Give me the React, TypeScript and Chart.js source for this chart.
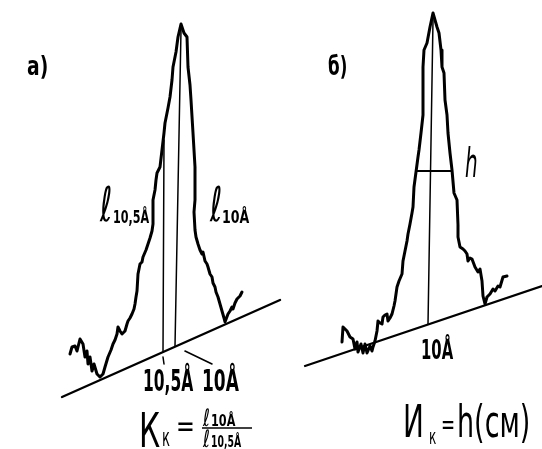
import React, { useEffect, useRef } from "react";
import { Chart, registerables } from "chart.js";

Chart.register(...registerables);

type P = [number, number];

// Panel а) — diffraction trace (x, intensity in drawing units)
const LEFT_TRACE: P[] = [
  [70, 354], [72, 347], [75, 346], [77, 351], [80, 339], [83, 344], [85, 357], [87, 351],
  [88, 364], [90, 357], [92, 371], [94, 364], [97, 374], [100, 377], [103, 374],
  [105, 367], [108, 357], [111, 350], [113, 344], [115, 340], [117, 334], [118, 327], [120, 331],
  [122, 334], [125, 331], [127, 324], [128, 321], [130, 318], [132, 314], [134, 309], [135, 304],
  [136, 297], [137, 291], [138, 274], [140, 264], [142, 262], [143, 257], [146, 250], [148, 244],
  [150, 238], [152, 231], [153, 224], [153, 200], [155, 190], [156, 180], [157, 173], [160, 167],
  [162, 150], [164, 133], [165, 123], [168, 108], [170, 97], [172, 80], [173, 67], [176, 52],
  [178, 37], [181, 24], [184, 33], [187, 37], [188, 67], [190, 85], [191, 100], [193, 133],
  [195, 167], [195, 200], [194, 212], [195, 230], [196, 237], [198, 244], [200, 250], [202, 254],
  [203, 252], [205, 261], [207, 264], [208, 267], [210, 274], [212, 277], [213, 283], [215, 287],
  [216, 292], [218, 297], [220, 304], [222, 311], [224, 318], [225, 322], [228, 314], [230, 311],
  [232, 307], [233, 309], [235, 303], [237, 299], [240, 296], [242, 292],
];
const LEFT_BASE: P[] = [[62, 397], [280, 300]];
const LEFT_PEAK_105: P[] = [[164, 140], [163, 352]];
const LEFT_PEAK_10: P[] = [[181, 30], [175, 346]];
const LEFT_TICK: P[] = [[163, 357], [164, 364]];
const LEFT_LEADER: P[] = [[185, 351], [212, 364]];

// Panel б) — diffraction trace
const RIGHT_TRACE: P[] = [
  [342, 342], [343, 327], [347, 331], [350, 337], [353, 339], [355, 349], [357, 342], [358, 352],
  [361, 344], [363, 353], [365, 344], [367, 353], [370, 346], [372, 351], [373, 347],
  [375, 341], [377, 331], [378, 321], [380, 323], [382, 324], [383, 317], [385, 315], [387, 314],
  [388, 321], [390, 318], [392, 314], [394, 306], [395, 301], [397, 287], [399, 281], [402, 274],
  [403, 261], [405, 251], [407, 241], [408, 234], [410, 224], [412, 213], [413, 207], [414, 187],
  [416, 172], [418, 157], [419, 150], [421, 133], [423, 115], [423, 100], [423, 83], [423, 67],
  [424, 50], [427, 43], [430, 27], [433, 13], [437, 27], [439, 33], [441, 50], [442, 67],
  [444, 73], [445, 100], [447, 115], [448, 133], [450, 153], [452, 170], [454, 193], [457, 200],
  [458, 225], [458, 237], [460, 247], [463, 249], [465, 251], [467, 254], [468, 261], [470, 258],
  [472, 259], [475, 267], [478, 272], [480, 269], [482, 281], [483, 296], [485, 304], [487, 297],
  [490, 294], [493, 289], [495, 291], [498, 286], [500, 287], [503, 277], [507, 276],
];
const RIGHT_BASE: P[] = [[305, 366], [542, 286]];
const RIGHT_PEAK: P[] = [[433, 20], [428, 324]];
const RIGHT_HEIGHT: P[] = [[417, 171], [452, 171]];

// Annotation texts
const PANEL_A = "а)";
const PANEL_B = "б)";
const L_SYM = "ℓ";
const SUB_105 = "10,5Å";
const SUB_10 = "10Å";
const TICK_105 = "10,5Å";
const TICK_10 = "10Å";
const H_LABEL = "h";
const K_MAIN = "К";
const K_SUB = "к";
const I_MAIN = "И";
const EQ = "=";
const H_UNIT = "h(см)";

const toXY = (pts: P[]) => pts.map(([x, y]) => ({ x, y }));

type Tok = {
  t: string; x: number; y: number; size: number; sx: number;
  bold?: boolean; italic?: boolean; family?: string;
};

function drawTok(ctx: CanvasRenderingContext2D, k: Tok) {
  ctx.save();
  ctx.translate(k.x, k.y);
  ctx.scale(k.sx, 1);
  ctx.font = `${k.italic ? "italic " : ""}${k.bold ? "bold " : ""}${k.size}px ${k.family || "'DejaVu Sans'"}`;
  ctx.fillStyle = "#000";
  ctx.textAlign = "left";
  ctx.textBaseline = "alphabetic";
  ctx.fillText(k.t, 0, 0);
  ctx.restore();
}

const textPlugin = {
  id: "annotations",
  afterDraw(chart: any) {
    const ctx: CanvasRenderingContext2D = chart.ctx;
    const toks: Tok[] = [
      { t: PANEL_A, x: 27, y: 75, size: 26, sx: 0.72, bold: true },
      { t: PANEL_B, x: 328, y: 75, size: 27, sx: 0.62, bold: true },
      // l labels panel a
      { t: L_SYM, x: 100, y: 221, size: 48, sx: 0.62 },
      { t: SUB_105, x: 113, y: 223, size: 18, sx: 0.62, bold: true },
      { t: L_SYM, x: 210, y: 221, size: 48, sx: 0.62 },
      { t: SUB_10, x: 222, y: 223, size: 18, sx: 0.7, bold: true },
      // tick labels panel a
      { t: TICK_105, x: 143, y: 391, size: 31, sx: 0.5, bold: true },
      { t: TICK_10, x: 202, y: 391, size: 31, sx: 0.55, bold: true },
      // formula panel a
      { t: K_MAIN, x: 139, y: 447, size: 48, sx: 0.62 },
      { t: K_SUB, x: 162, y: 446, size: 24, sx: 0.55 },
      { t: EQ, x: 176, y: 436, size: 30, sx: 0.75 },
      { t: L_SYM, x: 203, y: 426, size: 24, sx: 0.7 },
      { t: SUB_10, x: 211, y: 426, size: 15, sx: 0.75, bold: true },
      { t: L_SYM, x: 203, y: 447, size: 24, sx: 0.7 },
      { t: SUB_105, x: 211, y: 447, size: 15, sx: 0.62, bold: true },
      // panel b
      { t: H_LABEL, x: 465, y: 177, size: 40, sx: 0.5, italic: true },
      { t: TICK_10, x: 421, y: 359, size: 27, sx: 0.55, bold: true },
      { t: I_MAIN, x: 403, y: 437, size: 45, sx: 0.62 },
      { t: K_SUB, x: 429, y: 444, size: 22, sx: 0.55 },
      { t: EQ, x: 441, y: 434, size: 28, sx: 0.6 },
      { t: H_UNIT, x: 457, y: 437, size: 45, sx: 0.6 },
    ];
    toks.forEach((k) => drawTok(ctx, k));
    // fraction bar
    ctx.save();
    ctx.strokeStyle = "#000";
    ctx.lineWidth = 1.6;
    ctx.beginPath();
    ctx.moveTo(202, 428);
    ctx.lineTo(252, 428);
    ctx.stroke();
    ctx.restore();
  },
};

const line = (pts: P[], w: number) => ({
  data: toXY(pts),
  borderColor: "#000",
  backgroundColor: "#000",
  borderWidth: w,
  pointRadius: 0,
  tension: 0,
  fill: false,
  clip: false as any,
  borderCapStyle: "round" as const,
  borderJoinStyle: "round" as const,
});

export default function App() {
  const ref = useRef<HTMLCanvasElement | null>(null);
  useEffect(() => {
    if (!ref.current) return;
    const chart = new Chart(ref.current, {
      type: "line",
      data: {
        datasets: [
          line(LEFT_TRACE, 3),
          line(LEFT_BASE, 2.4),
          line(LEFT_PEAK_105, 1.5),
          line(LEFT_PEAK_10, 1.5),
          line(LEFT_TICK, 1.5),
          line(LEFT_LEADER, 1.6),
          line(RIGHT_TRACE, 3),
          line(RIGHT_BASE, 2.2),
          line(RIGHT_PEAK, 1.5),
          line(RIGHT_HEIGHT, 2),
        ] as any,
      },
      options: {
        animation: false,
        responsive: false,
        events: [],
        layout: { padding: 0 },
        plugins: { legend: { display: false }, tooltip: { enabled: false }, title: { display: false } },
        scales: {
          x: { type: "linear", min: 0, max: 542, display: false },
          y: { type: "linear", min: 0, max: 449, reverse: true, display: false },
        },
      },
      plugins: [textPlugin],
    });
    return () => chart.destroy();
  }, []);
  return (
    <div style={{ position: "absolute", left: 0, top: 0, width: 542, height: 449, background: "#fff" }}>
      <canvas ref={ref} width={542} height={449} />
    </div>
  );
}
